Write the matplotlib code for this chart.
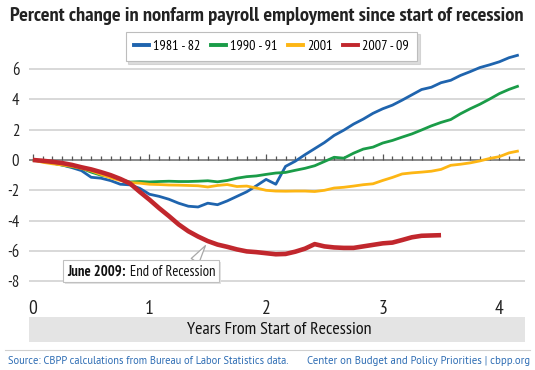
import numpy as np
import matplotlib
matplotlib.use("Agg")
import matplotlib.pyplot as plt
from matplotlib import font_manager as fm
from matplotlib.patches import Rectangle
from matplotlib.lines import Line2D

names = {f.name for f in fm.fontManager.ttflist}

def pick(cands, default):
    for c in cands:
        if c in names:
            return c
    return default

NARROW = pick(['PT Sans Narrow', 'Roboto Condensed', 'Fira Sans Condensed',
               'Archivo Narrow', 'Open Sans Condensed', 'Liberation Sans Narrow',
               'IBM Plex Sans Condensed'], 'Roboto')
REGULAR = pick(['PT Sans', 'Open Sans', 'Roboto'], 'DejaVu Sans')
plt.rcParams['font.family'] = [NARROW, 'DejaVu Sans']
plt.rcParams['axes.unicode_minus'] = False

# ---------------- data (percent change, monthly from start of recession) ----
series_names = ["1981 - 82", "1990 - 91", "2001", "2007 - 09"]
series_colors = ["#1f64ae", "#1a9c48", "#fdb614", "#c1272d"]

r1981 = [0, -0.08, -0.2, -0.33, -0.5, -0.7, -1.14, -1.2, -1.36, -1.6, -1.64,
         -1.87, -2.26, -2.4, -2.59, -2.85, -3.05, -3.1, -2.85, -2.95, -2.7,
         -2.4, -2.1, -1.7, -1.28, -1.6, -0.42, -0.08, 0.35, 0.75, 1.15, 1.62,
         1.97, 2.37, 2.7, 3.08, 3.38, 3.62, 3.95, 4.3, 4.65, 4.8, 5.1, 5.26,
         5.58, 5.83, 6.1, 6.28, 6.48, 6.75, 6.93]
r1990 = [0, -0.1, -0.2, -0.33, -0.45, -0.55, -0.8, -1.0, -1.1, -1.3, -1.45,
         -1.42, -1.45, -1.42, -1.4, -1.42, -1.42, -1.4, -1.37, -1.44, -1.35,
         -1.2, -1.1, -1.05, -0.95, -0.86, -0.82, -0.68, -0.55, -0.38, -0.1,
         0.18, 0.12, 0.45, 0.72, 0.85, 1.12, 1.29, 1.51, 1.72, 1.98, 2.25,
         2.48, 2.67, 3.05, 3.38, 3.68, 4.02, 4.38, 4.66, 4.89]
r2001 = [0, -0.15, -0.25, -0.33, -0.42, -0.55, -0.72, -0.95, -1.18, -1.35,
         -1.49, -1.53, -1.6, -1.62, -1.65, -1.66, -1.68, -1.7, -1.78, -1.68,
         -1.62, -1.75, -1.72, -1.85, -2.0, -2.05, -2.06, -2.05, -2.05, -2.08,
         -2.0, -1.85, -1.8, -1.72, -1.63, -1.57, -1.35, -1.15, -0.92, -0.85,
         -0.8, -0.74, -0.62, -0.35, -0.28, -0.19, -0.06, 0.1, 0.22, 0.47, 0.6]
r2007 = [0, -0.05, -0.12, -0.2, -0.32, -0.48, -0.62, -0.8, -1.0, -1.25, -1.55,
         -2.1, -2.62, -3.18, -3.7, -4.25, -4.7, -5.05, -5.35, -5.58, -5.73,
         -5.9, -6.03, -6.08, -6.15, -6.22, -6.2, -6.05, -5.85, -5.55, -5.7,
         -5.77, -5.8, -5.8, -5.7, -5.6, -5.5, -5.45, -5.28, -5.1, -5.0, -4.98,
         -4.96]
series_values = [r1981, r1990, r2001, r2007]
series_widths = [2.0, 2.0, 2.0, 3.3]

x_ticks = [0, 1, 2, 3, 4]
y_ticks = [-8, -6, -4, -2, 0, 2, 4, 6]
n_months_ticks = 50
annot_bold = "June 2009:"
annot_rest = "End of Recession"
annot_month = 18

title = "Percent change in nonfarm payroll employment since start of recession"
xlabel = "Years From Start of Recession"
source = "Source: CBPP calculations from Bureau of Labor Statistics data."
credit = "Center on Budget and Policy Priorities | cbpp.org"

# ---------------- figure ----------------
W, H = 535, 370
fig = plt.figure(figsize=(W / 100, H / 100), dpi=100)
fig.patch.set_facecolor("white")
renderer = fig.canvas.get_renderer()

def fit(txt, width_px):
    bb = txt.get_window_extent(renderer=renderer)
    if bb.width > width_px:
        txt.set_fontsize(txt.get_fontsize() * width_px / bb.width)

def px(x0, y0, x1, y1):
    return [x0 / W, 1 - y1 / H, (x1 - x0) / W, (y1 - y0) / H]

ax = fig.add_axes(px(29, 48, 525, 292))
ax.set_xlim(-0.033, 4.22)
ax.set_ylim(-8.71, 7.39)
for s in ax.spines.values():
    s.set_visible(False)

# grid
for yv in y_ticks:
    if yv != 0:
        ax.axhline(yv, color="#d6d6d6", lw=1.3, zorder=1)
ax.axhline(0, color="#6b6b6b", lw=1.1, zorder=2)
mt = np.arange(n_months_ticks + 1) / 12
minor = [m for i, m in enumerate(mt) if i % 12 != 0]
major = [m for i, m in enumerate(mt) if i % 12 == 0]
ax.plot(minor, np.zeros(len(minor)), ls="none", marker=2, ms=2.6,
        mew=0.9, color="#555555", zorder=2)
ax.plot(major, np.zeros(len(major)), ls="none", marker=2, ms=4.5,
        mew=0.9, color="#555555", zorder=2)

for name, vals, col, lw in zip(series_names, series_values, series_colors,
                               series_widths):
    xs = np.arange(len(vals)) / 12
    ax.plot(xs, vals, color=col, lw=lw, label=name, zorder=4,
            solid_joinstyle="round", solid_capstyle="butt")

ax.set_yticks(y_ticks)
ax.set_xticks(x_ticks)
ax.tick_params(axis="y", length=0, pad=7, labelsize=12, colors="#222222")
ax.tick_params(axis="x", length=0, pad=6, labelsize=14, colors="#222222")

# legend (fitted to the reference width)
handles = [Line2D([], [], color=c, lw=2.8) for c in series_colors]

def make_legend(fs):
    lg = fig.legend(handles, series_names, loc="center",
                    bbox_to_anchor=((128 + 415) / 2 / W, 1 - 46.5 / H),
                    ncol=4, frameon=True, fontsize=fs, handlelength=1.05,
                    handletextpad=0.3, columnspacing=0.75, borderpad=0.6,
                    borderaxespad=0, fancybox=False,
                    shadow={"ox": 2, "oy": -2, "color": "#bbbbbb"})
    lg.get_frame().set_edgecolor("#bdbdbd")
    lg.get_frame().set_linewidth(0.8)
    return lg

fs = 13
leg = make_legend(fs)
wbb = leg.get_window_extent(renderer=renderer).width
if wbb > 290:
    leg.remove()
    leg = make_legend(fs * 290 / wbb)

# annotation callout
box_x0, box_x1, box_y0, box_y1 = 63, 219, 260, 282
ax.annotate("", xy=(annot_month / 12 - 0.02, r2007[annot_month] - 0.3),
            xytext=(195, H - box_y0 - 1), textcoords="figure pixels",
            arrowprops=dict(arrowstyle="wedge,tail_width=0.5,shrink_factor=0.5",
                            mutation_scale=13, fc="white", ec="#a8a8a8",
                            lw=0.9, shrinkA=0, shrinkB=0),
            annotation_clip=False, zorder=5)
fig.patches.append(Rectangle((box_x0 / W + 1.5 / W, 1 - box_y1 / H - 1.5 / H),
                             (box_x1 - box_x0) / W, (box_y1 - box_y0) / H,
                             transform=fig.transFigure, fc="#e2e2e2",
                             ec="none", zorder=1))
box = Rectangle((box_x0 / W, 1 - box_y1 / H), (box_x1 - box_x0) / W,
                (box_y1 - box_y0) / H, transform=fig.transFigure, fc="white",
                ec="#c0c0c0", lw=0.8, zorder=6)
fig.add_artist(box)
t1 = fig.text((box_x0 + 4) / W, 1 - 271.5 / H, annot_bold, ha="left",
              va="center", fontsize=12.5, fontweight="bold", color="#111111",
              zorder=7)
t2 = fig.text(0, 0, annot_rest, fontsize=12.5, color="#111111", zorder=7)
bb1 = t1.get_window_extent(renderer=renderer)
total = bb1.width + 5 + t2.get_window_extent(renderer=renderer).width
if total > box_x1 - box_x0 - 8:
    sc = (box_x1 - box_x0 - 8) / total
    t1.set_fontsize(12.5 * sc)
    t2.set_fontsize(12.5 * sc)
    bb1 = t1.get_window_extent(renderer=renderer)
t2.set_position(((bb1.x1 + 5) / W, 1 - 271.5 / H))
t2.set_va("center")

# x-label band
fig.patches.append(Rectangle((29 / W, 1 - 342 / H), (525 - 29) / W, 25 / H,
                             transform=fig.transFigure, fc="#e4e4e4",
                             ec="none"))
xl = fig.text(279 / W, 1 - 329.5 / H, xlabel, ha="center", va="center",
              fontsize=15, color="#111111")
fit(xl, 186)

# title
tt = fig.text(267 / W, 1 - 16 / H, title, ha="center", va="center",
              fontsize=15, fontweight="bold", color="#222222")
fit(tt, 515)

# footer line and text
fig.add_artist(Line2D([5 / W, 530 / W], [1 - 350 / H, 1 - 350 / H],
                      color="#d0d0d0", lw=0.8))
st = fig.text(8 / W, 1 - 361 / H, source, ha="left", va="center",
              fontsize=8.6, color="#2e6db4", family=[REGULAR, 'DejaVu Sans'])
fit(st, 282)
ct = fig.text(530 / W, 1 - 361 / H, credit, ha="right", va="center",
              fontsize=8.6, color="#2e6db4", family=[REGULAR, 'DejaVu Sans'])
fit(ct, 220)

fig.savefig("out.png", dpi=100)
